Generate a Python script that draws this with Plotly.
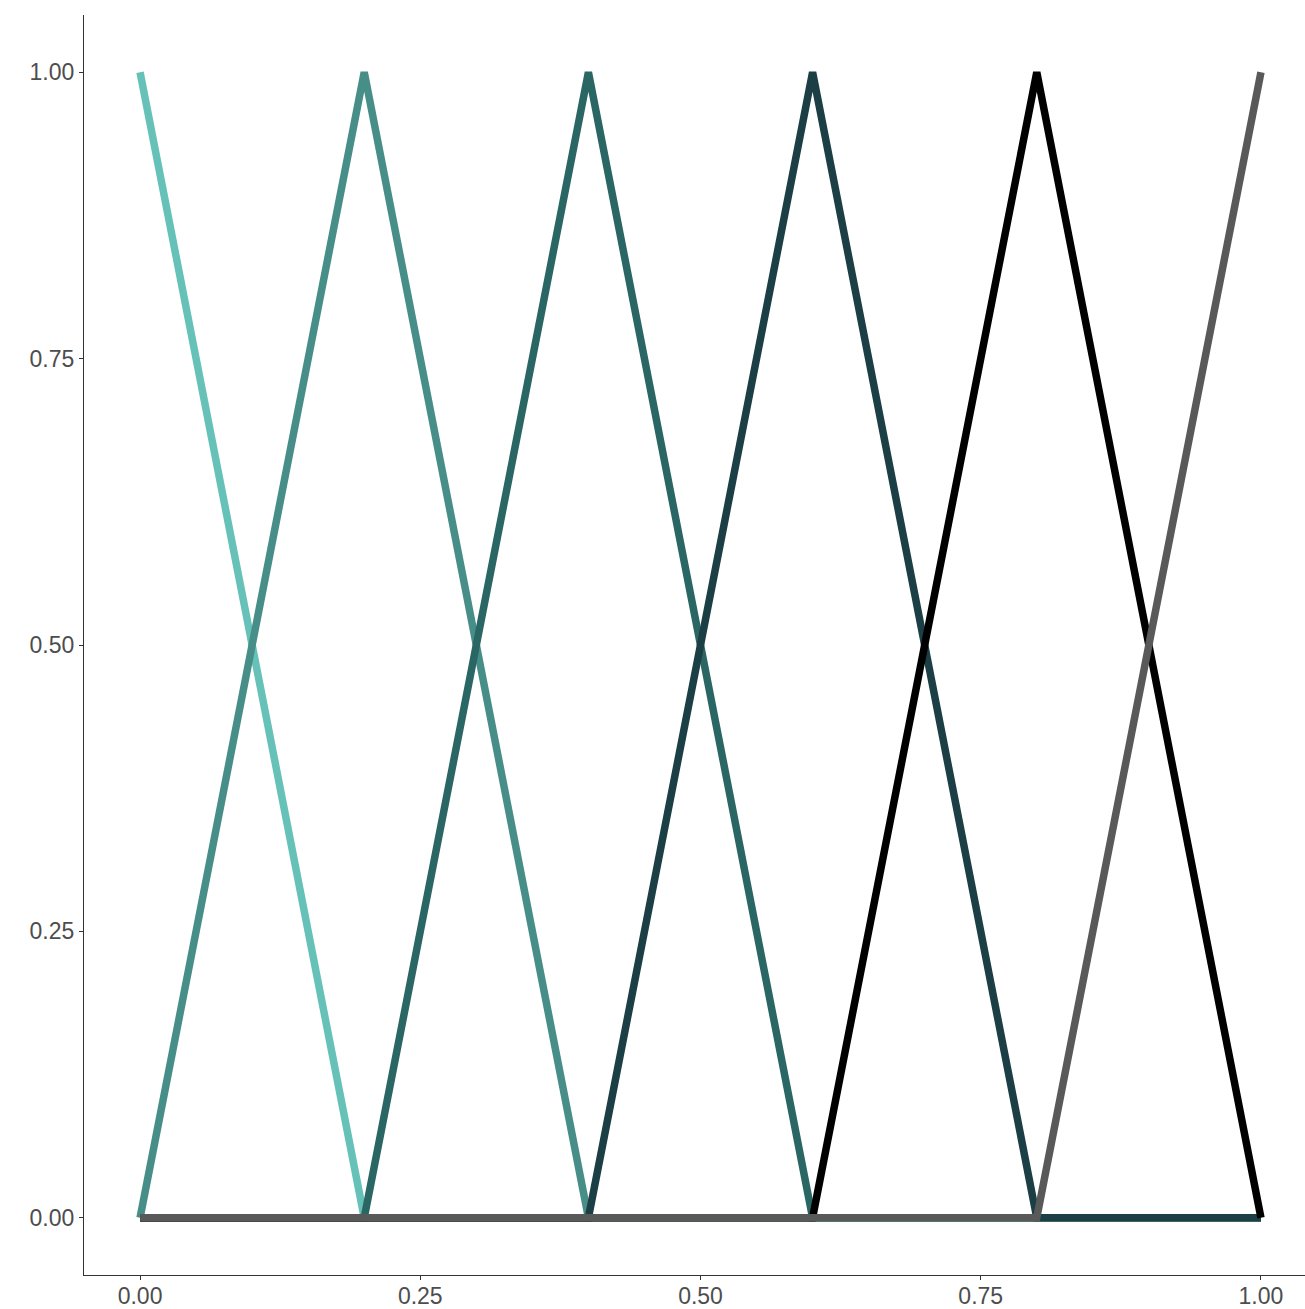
import plotly.graph_objects as go

# Breakpoints of the triangular membership functions
x_points = [0.0, 0.2, 0.4, 0.6, 0.8, 1.0]

# Membership values of each fuzzy set at the breakpoints
set_1 = [1, 0, 0, 0, 0, 0]
set_2 = [0, 1, 0, 0, 0, 0]
set_3 = [0, 0, 1, 0, 0, 0]
set_4 = [0, 0, 0, 1, 0, 0]
set_5 = [0, 0, 0, 0, 1, 0]
set_6 = [0, 0, 0, 0, 0, 1]

series = [set_1, set_2, set_3, set_4, set_5, set_6]
colors = ["#66C2B8", "#478E89", "#2A6664", "#1C3E45", "#000000", "#595959"]

tick_vals = [0.0, 0.25, 0.5, 0.75, 1.0]
tick_text = ["0.00", "0.25", "0.50", "0.75", "1.00"]

fig = go.Figure()
for ys, col in zip(series, colors):
    fig.add_trace(go.Scatter(
        x=x_points, y=ys, mode="lines",
        line=dict(color=col, width=7.5),
        showlegend=False, hoverinfo="skip",
    ))

axis_common = dict(
    showgrid=False, zeroline=False, automargin=False,
    showline=True, linecolor="#333333", linewidth=1.2,
    ticks="outside", ticklen=4, tickcolor="#333333", tickwidth=1.2,
    tickfont=dict(family="Liberation Sans, Arial, sans-serif", size=23, color="#4D4D4D"),
    tickvals=tick_vals, ticktext=tick_text,
)

fig.update_layout(
    width=1305, height=1309,
    margin=dict(l=84, r=0, t=15, b=34),
    plot_bgcolor="white", paper_bgcolor="white",
    xaxis=dict(range=[-0.05, 1.0393], ticklabelstandoff=-4, **axis_common),
    yaxis=dict(range=[-0.05, 1.05], **axis_common),
)

fig.write_html("out.html")
